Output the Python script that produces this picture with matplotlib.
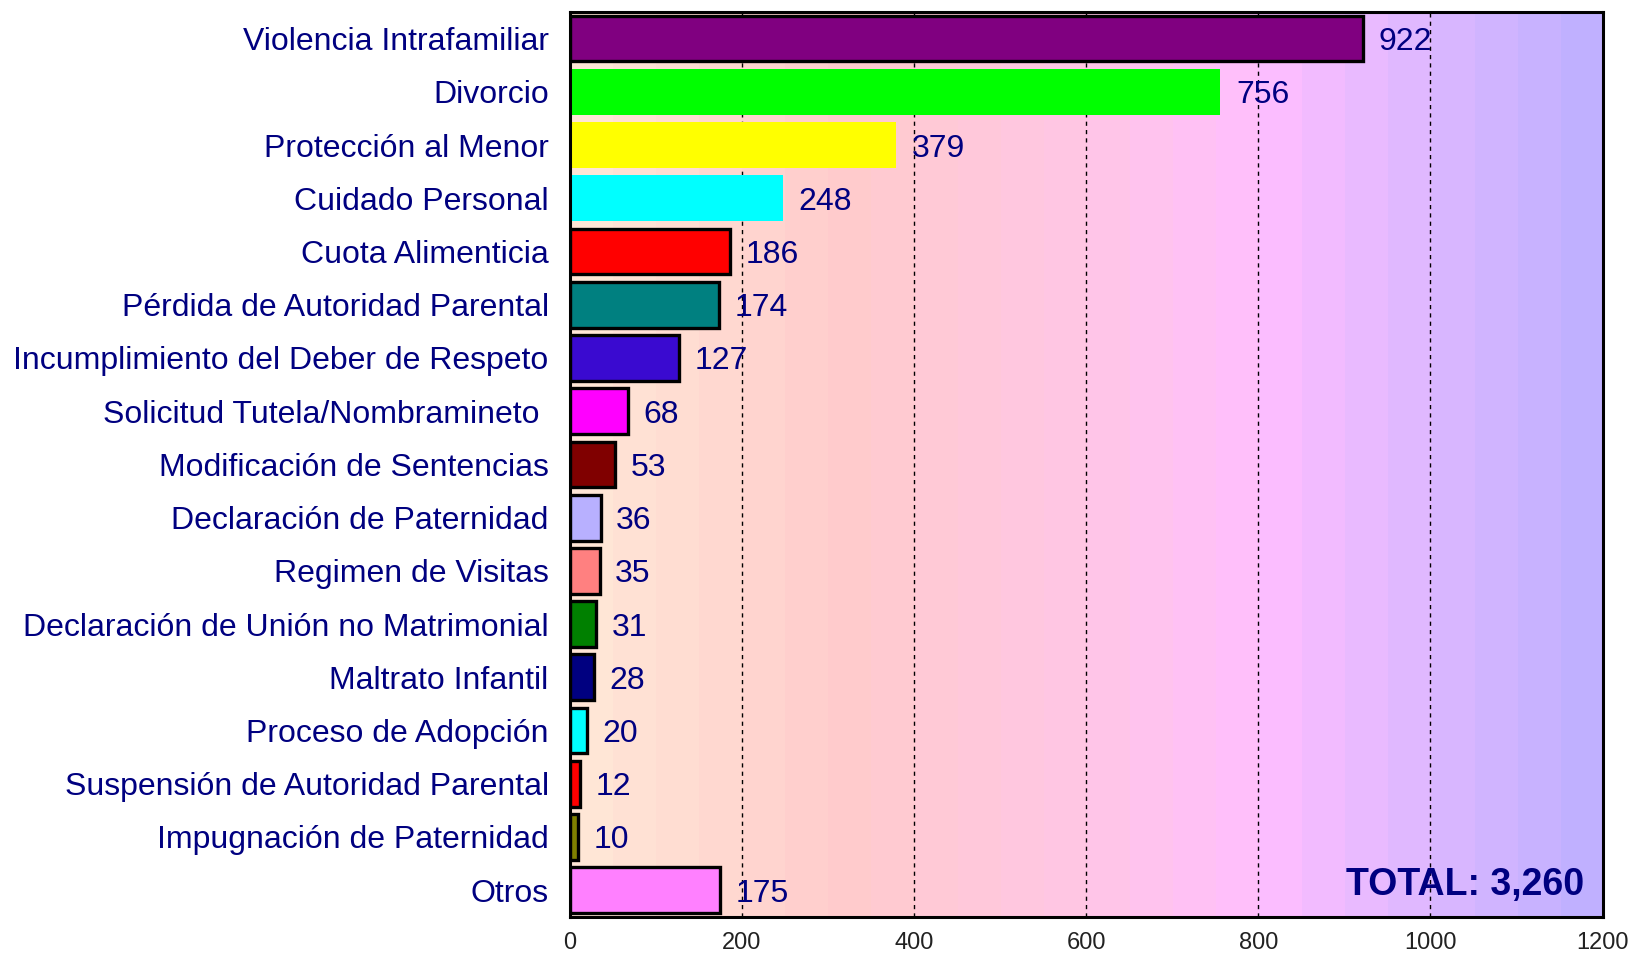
import numpy as np
import matplotlib
matplotlib.use("Agg")
import matplotlib.pyplot as plt
from matplotlib.colors import LinearSegmentedColormap

categories = [
	"Violencia Intrafamiliar",
	"Divorcio",
	"Protección al Menor",
	"Cuidado Personal",
	"Cuota Alimenticia",
	"Pérdida de Autoridad Parental",
	"Incumplimiento del Deber de Respeto",
	"Solicitud Tutela/Nombramineto ",
	"Modificación de Sentencias",
	"Declaración de Paternidad",
	"Regimen de Visitas",
	"Declaración de Unión no Matrimonial",
	"Maltrato Infantil",
	"Proceso de Adopción",
	"Suspensión de Autoridad Parental",
	"Impugnación de Paternidad",
	"Otros",
]
values = [922, 756, 379, 248, 186, 174, 127, 68, 53, 36, 35, 31, 28, 20, 12, 10, 175]
bar_colors = ["#800080", "#00ff00", "#ffff00", "#00ffff", "#ff0000", "#008080", "#3a0ad0",
	"#ff00ff", "#800000", "#b8b0ff", "#ff8080", "#008000", "#000080", "#00ffff",
	"#ff0000", "#808000", "#ff80ff"]
has_edge = [True, False, False, False] + [True] * 13
x_ticks = [0, 200, 400, 600, 800, 1000, 1200]
total_label = "TOTAL: 3,260"

navy = "#000080"
plt.rcParams["font.family"] = ["Liberation Sans", "DejaVu Sans"]

fig = plt.figure(figsize=(16.32, 9.59), dpi=100)
ax = fig.add_axes([0.349, 0.044, 0.633, 0.9435])

# background gradient, peach -> pink -> magenta -> lavender
bg = LinearSegmentedColormap.from_list("bg", [
	(0.0, "#ffe6d6"), (0.25, "#ffcccc"), (0.5, "#ffc6e6"),
	(0.68, "#ffbeff"), (0.85, "#dcb8ff"), (1.0, "#c0b0ff")])
grad = np.linspace(0, 1, 24).reshape(1, -1)
ax.imshow(grad, cmap=bg, aspect="auto", extent=[0, 1200, 16.5, -0.5], zorder=0, interpolation="nearest")

y = np.arange(len(categories))
for i in range(len(categories)):
	ax.barh(y[i], values[i], height=0.86, color=bar_colors[i],
		edgecolor="black" if has_edge[i] else "none",
		linewidth=2.4 if has_edge[i] else 0, zorder=3)
	ax.text(values[i] + 18, y[i], str(values[i]), va="center_baseline", ha="left",
		fontsize=23, color=navy, zorder=4)

for xv in x_ticks[1:-1]:
	ax.axvline(xv, color="black", linestyle=(0, (3, 3)), linewidth=1.0, zorder=2)

ax.set_xlim(0, 1200)
ax.set_ylim(16.5, -0.5)
ax.set_yticks(y)
ax.set_yticklabels(categories, fontsize=23, color=navy, va="center_baseline")
ax.set_xticks(x_ticks)
ax.set_xticklabels([str(t) for t in x_ticks], fontsize=17, color="#222222")
ax.tick_params(axis="y", length=0, pad=15)
ax.tick_params(axis="x", length=0, pad=11)
for s in ax.spines.values():
	s.set_linewidth(2.2)
	s.set_color("black")
	s.set_zorder(5)

ax.text(0.982, 0.015, total_label, transform=ax.transAxes, ha="right", va="bottom",
	fontsize=27, fontweight="bold", color=navy, zorder=6)

fig.savefig("out.png", dpi=100)
